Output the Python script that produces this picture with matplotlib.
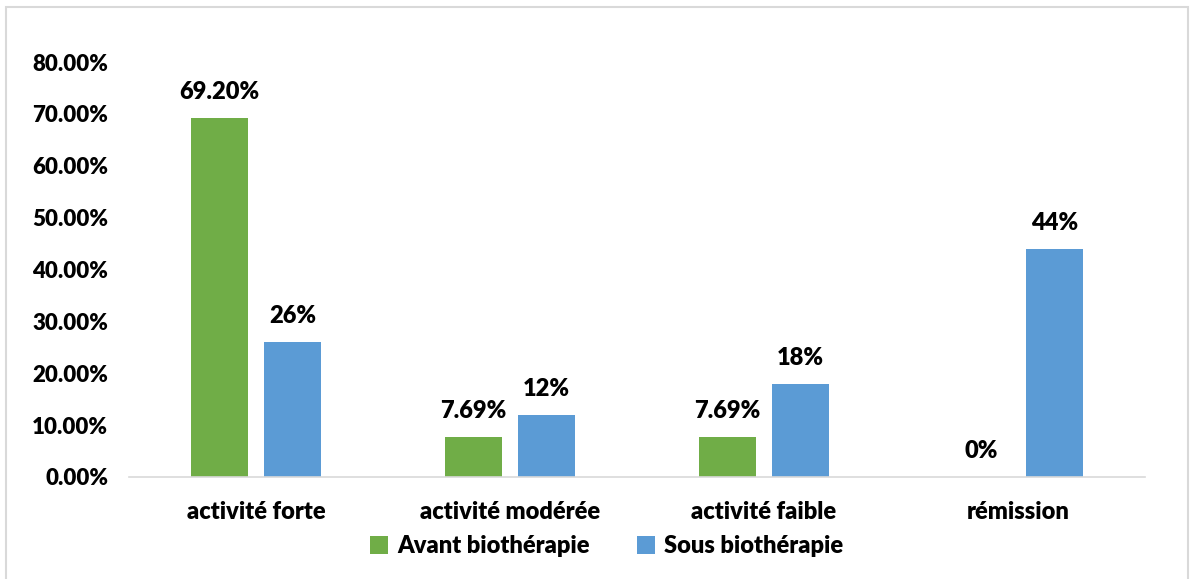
import numpy as np
import matplotlib.pyplot as plt
from matplotlib.patches import Rectangle

categories = ['activité forte', 'activité modérée', 'activité faible', 'rémission']
avant = [69.20, 7.69, 7.69, 0.0]
sous = [26, 12, 18, 44]
avant_labels = ['69.20%', '7.69%', '7.69%', '0%']
sous_labels = ['26%', '12%', '18%', '44%']

plt.rcParams['font.family'] = ['Lato', 'DejaVu Sans']
plt.rcParams['font.weight'] = 'heavy'

fig = plt.figure(figsize=(11.92, 5.79), dpi=100)
ax = fig.add_axes([0.1082, 0.1762, 0.8524, 0.7167])

x = np.arange(len(categories))
w = 0.224
off = 0.144
b1 = ax.bar(x - off, avant, w, color='#70AD47', label='Avant biothérapie')
b2 = ax.bar(x + off, sous, w, color='#5B9BD5', label='Sous biothérapie')

for bars, labels in ((b1, avant_labels), (b2, sous_labels)):
    for rect, lab in zip(bars, labels):
        ax.text(rect.get_x() + rect.get_width() / 2, rect.get_height() + 2.9, lab,
                ha='center', va='bottom', fontsize=17, fontweight='heavy')

ax.set_xlim(-0.5, 3.5)
ax.set_ylim(0, 80)
ax.set_yticks(np.arange(0, 81, 10))
ax.set_yticklabels(['%.2f%%' % v for v in np.arange(0, 81, 10)], fontsize=16, fontweight='heavy')
ax.set_xticks(x)
ax.set_xticklabels(categories, fontsize=17, fontweight='heavy')
ax.tick_params(length=0)
ax.tick_params(axis='x', pad=17)
ax.tick_params(axis='y', pad=15)
for s in ['top', 'right', 'left']:
    ax.spines[s].set_visible(False)
ax.spines['bottom'].set_color('#D9D9D9')
ax.spines['bottom'].set_linewidth(1.2)

ax.legend(loc='upper center', bbox_to_anchor=(0.47, -0.112), ncol=2, frameon=False,
          prop={'size': 17, 'weight': 'heavy'}, handlelength=0.75, handleheight=0.75,
          handletextpad=0.4, columnspacing=2.0, borderpad=0)

fig.patches.append(Rectangle((0.005, -0.01), 0.992, 0.998, transform=fig.transFigure,
                             fill=False, edgecolor='#D9D9D9', linewidth=1.5))

fig.savefig('out.png', dpi=100)
